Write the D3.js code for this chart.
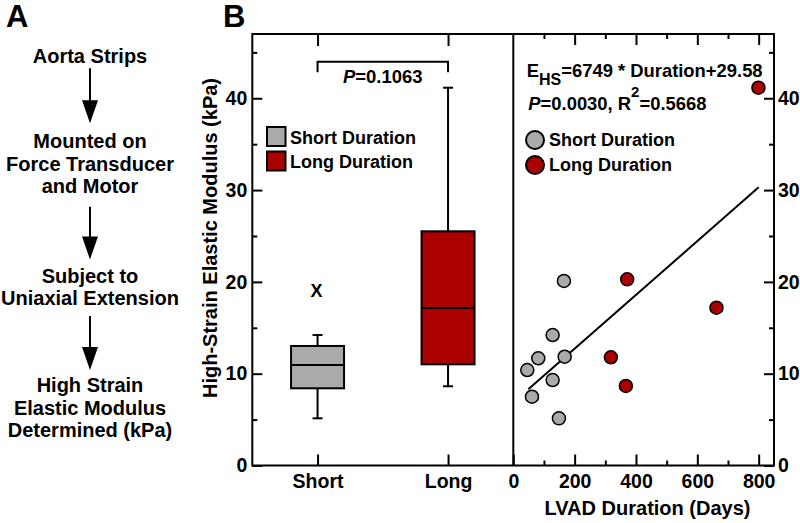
<!DOCTYPE html>
<html><head><meta charset="utf-8">
<script src="https://cdn.jsdelivr.net/npm/d3@7"></script>
<style>
html,body{margin:0;padding:0;background:#fff;}
svg text{font-family:"Liberation Sans",Arial,Helvetica,sans-serif;font-weight:bold;fill:#000;}
</style></head>
<body>
<svg id="c" width="800" height="523"></svg>
<script>
// ---------- data ----------
const flowSteps = [
  ["Aorta Strips"],
  ["Mounted on", "Force Transducer", "and Motor"],
  ["Subject to", "Uniaxial Extension"],
  ["High Strain", "Elastic Modulus", "Determined (kPa)"]
];
const categories = ["Short", "Long"];
const categoryNames = ["Short Duration", "Long Duration"];
const whiskerLow  = [5.14, 8.63];
const quartile1   = [8.41, 11.02];
const medians     = [10.95, 17.15];
const quartile3   = [13.02, 25.51];
const whiskerHigh = [14.21, 41.15];
const outlierCat  = ["Short"];
const outlierVal  = [20.1];
const pBox = "=0.1063";

const shortDays    = [45.6, 60.9, 81.4, 128.3, 128.3, 148.8, 165.1, 167.4];
const shortModulus = [10.40, 7.49, 11.68, 14.21, 9.31, 5.14, 20.10, 11.85];
const longDays     = [318.2, 367.0, 371.3, 662.4, 799.2];
const longModulus  = [11.79, 8.66, 20.28, 17.19, 41.15];
const fitDays    = [49, 800];
const fitModulus = [8.3, 30.3];

const yMajor = [0, 10, 20, 30, 40];
const yMinor = [5, 15, 25, 35, 45];
const dayMajor = [0, 200, 400, 600, 800];
const dayMinor = [100, 300, 500, 700];

// ---------- layout ----------
const svg = d3.select("#c");
const L = 252.3, M = 513.3, R = 774, T = 34, B = 465.5;
const grey = "#aaaaaa", red = "#aa0000";

const y = d3.scaleLinear().domain([0, 47]).range([B, T]);
const xc = d3.scalePoint().domain(categories).range([L, M]).padding(0.5);
const xd = d3.scaleLinear().domain([0, 850]).range([M, R]);

// ---------- panel labels ----------
svg.append("text").attr("x", 6).attr("y", 27).style("font-size", "31px").text("A");
svg.append("text").attr("x", 223).attr("y", 27).style("font-size", "31px").text("B");

// ---------- panel A flowchart ----------
const cx = 90;
const stepBase = [63.3, 148.3, 282.7, 392.3];
const lineGap = 22.3;
flowSteps.forEach((lines, i) => {
  lines.forEach((t, j) => {
    svg.append("text").attr("x", cx).attr("y", stepBase[i] + j * lineGap)
      .attr("text-anchor", "middle").style("font-size", "20px").text(t);
  });
});
const arrows = [[68.3, 123.3], [206.7, 259.5], [316, 370]];
arrows.forEach(([a, b]) => {
  const headH = 23, headW = 16;
  svg.append("line").attr("x1", cx).attr("x2", cx).attr("y1", a).attr("y2", b - headH + 1)
    .attr("stroke", "#000").attr("stroke-width", 2);
  svg.append("path").attr("d", `M${cx - headW / 2},${b - headH} L${cx + headW / 2},${b - headH} L${cx},${b} Z`)
    .attr("fill", "#000");
});

// ---------- axes ----------
function styleAxis(g) {
  g.select(".domain").remove();
  g.selectAll("line").attr("stroke", "#000").attr("stroke-width", 2);
  g.selectAll("text").style("font-size", "19.5px").attr("fill", "#000");
}
// left
svg.append("g").attr("transform", `translate(${L},0)`)
  .call(d3.axisLeft(y).tickValues(yMajor).tickSizeInner(-10).tickSizeOuter(0).tickPadding(5)).call(styleAxis);
svg.append("g").attr("transform", `translate(${L},0)`)
  .call(d3.axisLeft(y).tickValues(yMinor).tickSizeInner(-5).tickSizeOuter(0).tickFormat("")).call(styleAxis);
// right
svg.append("g").attr("transform", `translate(${R},0)`)
  .call(d3.axisRight(y).tickValues(yMajor).tickSizeInner(-10).tickSizeOuter(0).tickPadding(4)).call(styleAxis);
svg.append("g").attr("transform", `translate(${R},0)`)
  .call(d3.axisRight(y).tickValues(yMinor).tickSizeInner(-5).tickSizeOuter(0).tickFormat("")).call(styleAxis);
// categories bottom/top
svg.append("g").attr("transform", `translate(0,${B})`)
  .call(d3.axisBottom(xc).tickSizeInner(-11).tickSizeOuter(0).tickPadding(9)).call(styleAxis);
svg.append("g").attr("transform", `translate(0,${T})`)
  .call(d3.axisTop(xc).tickSizeInner(-12).tickSizeOuter(0).tickFormat("")).call(styleAxis);
// days bottom/top
svg.append("g").attr("transform", `translate(0,${B})`)
  .call(d3.axisBottom(xd).tickValues(dayMajor).tickSizeInner(-11).tickSizeOuter(0).tickPadding(9)).call(styleAxis);
svg.append("g").attr("transform", `translate(0,${B})`)
  .call(d3.axisBottom(xd).tickValues(dayMinor).tickSizeInner(-5).tickSizeOuter(0).tickFormat("")).call(styleAxis);
svg.append("g").attr("transform", `translate(0,${T})`)
  .call(d3.axisTop(xd).tickValues(dayMajor.slice(1)).tickSizeInner(-11).tickSizeOuter(0).tickFormat("")).call(styleAxis);
svg.append("g").attr("transform", `translate(0,${T})`)
  .call(d3.axisTop(xd).tickValues(dayMinor).tickSizeInner(-5).tickSizeOuter(0).tickFormat("")).call(styleAxis);

// frame + divider
svg.append("rect").attr("x", L).attr("y", T).attr("width", R - L).attr("height", B - T)
  .attr("fill", "none").attr("stroke", "#000").attr("stroke-width", 2);
svg.append("line").attr("x1", xd(0)).attr("x2", xd(0)).attr("y1", T).attr("y2", B)
  .attr("stroke", "#000").attr("stroke-width", 2);

// axis titles
svg.append("text").attr("transform", `translate(217,238) rotate(-90)`)
  .attr("text-anchor", "middle").style("font-size", "20px").text("High-Strain Elastic Modulus (kPa)");
svg.append("text").attr("x", 647.5).attr("y", 515)
  .attr("text-anchor", "middle").style("font-size", "20px").text("LVAD Duration (Days)");

// ---------- box plots ----------
const boxW = 53, capW = 10;
const fills = [grey, red];
categories.forEach((c, i) => {
  const x0 = xc(c);
  const g = svg.append("g");
  g.append("line").attr("x1", x0).attr("x2", x0).attr("y1", y(whiskerLow[i])).attr("y2", y(whiskerHigh[i]))
    .attr("stroke", "#000").attr("stroke-width", 2);
  [whiskerLow[i], whiskerHigh[i]].forEach(v => {
    g.append("line").attr("x1", x0 - capW / 2).attr("x2", x0 + capW / 2).attr("y1", y(v)).attr("y2", y(v))
      .attr("stroke", "#000").attr("stroke-width", 2);
  });
  g.append("rect").attr("x", x0 - boxW / 2).attr("y", y(quartile3[i])).attr("width", boxW)
    .attr("height", y(quartile1[i]) - y(quartile3[i]))
    .attr("fill", fills[i]).attr("stroke", "#000").attr("stroke-width", 2);
  g.append("line").attr("x1", x0 - boxW / 2).attr("x2", x0 + boxW / 2).attr("y1", y(medians[i])).attr("y2", y(medians[i]))
    .attr("stroke", "#000").attr("stroke-width", 2);
});
outlierCat.forEach((c, i) => {
  svg.append("text").attr("x", xc(c) - 1).attr("y", y(outlierVal[i]) + 15.7)
    .attr("text-anchor", "middle").style("font-size", "18px").text("X");
});

// significance bracket
const by = 61.7, bd = 10.6;
svg.append("path")
  .attr("d", `M${xc(categories[0])},${by + bd} V${by} H${xc(categories[1])} V${by + bd}`)
  .attr("fill", "none").attr("stroke", "#000").attr("stroke-width", 2);
const pt = svg.append("text").attr("x", (xc(categories[0]) + xc(categories[1])) / 2).attr("y", 83.3)
  .attr("text-anchor", "middle").style("font-size", "18.5px");
pt.append("tspan").style("font-style", "italic").text("P");
pt.append("tspan").text(pBox);

// left legend
categoryNames.forEach((n, i) => {
  const yy = 127 + i * 24.5;
  svg.append("rect").attr("x", 267).attr("y", yy).attr("width", 18.5).attr("height", 19)
    .attr("fill", fills[i]).attr("stroke", "#000").attr("stroke-width", 2);
  svg.append("text").attr("x", 290).attr("y", yy + 16.5).style("font-size", "18px").text(n);
});

// ---------- scatter ----------
svg.append("line")
  .attr("x1", xd(fitDays[0])).attr("y1", y(fitModulus[0]))
  .attr("x2", xd(fitDays[1])).attr("y2", y(fitModulus[1]))
  .attr("stroke", "#000").attr("stroke-width", 2);
const groups = [[shortDays, shortModulus, grey], [longDays, longModulus, red]];
groups.forEach(([xs, ys, col]) => {
  svg.append("g").selectAll("circle").data(xs).join("circle")
    .attr("cx", d => xd(d)).attr("cy", (d, i) => y(ys[i])).attr("r", 6.5)
    .attr("fill", col).attr("stroke", "#000").attr("stroke-width", 1.5);
});

// equation
const eq = svg.append("text").attr("x", 526.7).attr("y", 76.7).style("font-size", "18.4px");
eq.append("tspan").text("E");
eq.append("tspan").attr("dy", 8).style("font-size", "16px").text("HS");
eq.append("tspan").attr("dy", -8).text("=6749 * Duration+29.58");
const eq2 = svg.append("text").attr("x", 528.3).attr("y", 110).style("font-size", "18.4px");
eq2.append("tspan").style("font-style", "italic").text("P");
eq2.append("tspan").text("=0.0030, R");
eq2.append("tspan").attr("dy", -13).style("font-size", "15px").text("2");
eq2.append("tspan").attr("dy", 13).text("=0.5668");

// right legend
categoryNames.forEach((n, i) => {
  const yy = 140 + i * 25;
  svg.append("circle").attr("cx", 535).attr("cy", yy).attr("r", 9)
    .attr("fill", fills[i]).attr("stroke", "#000").attr("stroke-width", 2);
  svg.append("text").attr("x", 549).attr("y", yy + 6.3).style("font-size", "18px").text(n);
});
</script>
</body></html>
